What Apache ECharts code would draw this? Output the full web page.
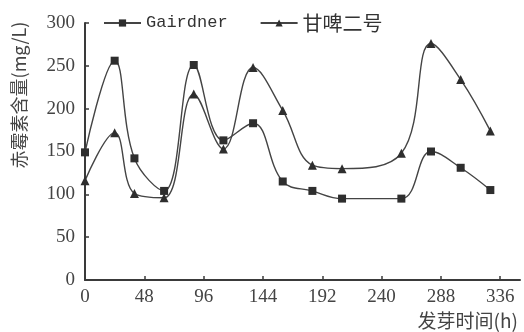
<!DOCTYPE html>
<html>
<head>
<meta charset="utf-8">
<script src="https://cdn.jsdelivr.net/npm/echarts@6/dist/echarts.min.js"></script>
<style>
html,body{margin:0;padding:0;background:#fff;}
#chart{width:524px;height:332px;}
</style>
</head>
<body>
<div id="chart"></div>
<script>
var hours = [0, 24, 40, 64, 88, 112, 136, 160, 184, 208, 256, 280, 304, 328];
var gairdner = [149, 256, 142, 104, 251, 163, 183, 115, 104, 95, 95, 150, 131, 105];
var ganpi2 = [116, 172, 101, 96, 217, 153, 248, 198, 134, 130, 148, 276, 234, 174];
var xTicks = [0, 48, 96, 144, 192, 240, 288, 336];
var yTicks = [0, 50, 100, 150, 200, 250, 300];
var seriesNames = ['Gairdner', '甘啤二号'];
var xName = '发芽时间(h)';
var yName = '赤霉素含量(mg/L)';

function pairs(xs, ys) { return xs.map(function (x, i) { return [x, ys[i]]; }); }

var chart = echarts.init(document.getElementById('chart'));
var ink = '#2e2e2e';
var axisCommon = {
  axisLine: { show: true, onZero: false, lineStyle: { color: '#3a3a3a', width: 2 } },
  axisTick: { show: true, inside: true, length: 4, lineStyle: { color: '#3a3a3a', width: 1.5 } },
  splitLine: { show: false },
  axisLabel: { color: '#444', fontFamily: 'Liberation Serif', fontSize: 19 }
};
chart.setOption({
  animation: false,
  backgroundColor: '#fff',
  grid: { left: 85, right: 4, top: 23, bottom: 52 },
  legend: {
    data: seriesNames,
    left: 103, top: 13, padding: 0,
    itemWidth: 37, itemHeight: 9, itemGap: 32,
    textStyle: {
      color: '#333', fontFamily: 'Liberation Mono', fontSize: 17,
      rich: { cjk: { fontFamily: 'Noto Sans CJK SC', fontSize: 20, color: '#333' } }
    },
    formatter: function (n) { return /[\u4e00-\u9fff]/.test(n) ? '{cjk|' + n + '}' : n; }
  },
  xAxis: Object.assign({}, axisCommon, {
    type: 'value', min: 0, max: 352, interval: 48,
    axisTick: Object.assign({}, axisCommon.axisTick, { customValues: xTicks }),
    axisLabel: Object.assign({}, axisCommon.axisLabel, { customValues: xTicks, margin: 8 })
  }),
  yAxis: Object.assign({}, axisCommon, {
    type: 'value', min: 0, max: 300, interval: 50,
    axisTick: Object.assign({}, axisCommon.axisTick, { customValues: yTicks }),
    axisLabel: Object.assign({}, axisCommon.axisLabel, { customValues: yTicks, margin: 10 })
  }),
  graphic: [
    { type: 'text', x: 19, y: 95, rotation: Math.PI / 2,
      style: { text: yName, fill: '#444', font: '18px "Noto Sans CJK SC"', textAlign: 'center', textVerticalAlign: 'middle' } },
    { type: 'text', x: 518, y: 321,
      style: { text: xName, fill: '#444', font: '19px "Noto Sans CJK SC"', textAlign: 'right', textVerticalAlign: 'middle' } }
  ],
  series: [
    { name: seriesNames[0], type: 'line', data: pairs(hours, gairdner), smooth: 0.4,
      symbol: 'rect', symbolSize: 8, showAllSymbol: true,
      lineStyle: { color: '#444', width: 1.4 }, itemStyle: { color: ink, borderWidth: 0 } },
    { name: seriesNames[1], type: 'line', data: pairs(hours, ganpi2), smooth: 0.4,
      symbol: 'triangle', symbolSize: 9, showAllSymbol: true,
      lineStyle: { color: '#444', width: 1.4 }, itemStyle: { color: ink, borderWidth: 0 } }
  ]
});
</script>
</body>
</html>
